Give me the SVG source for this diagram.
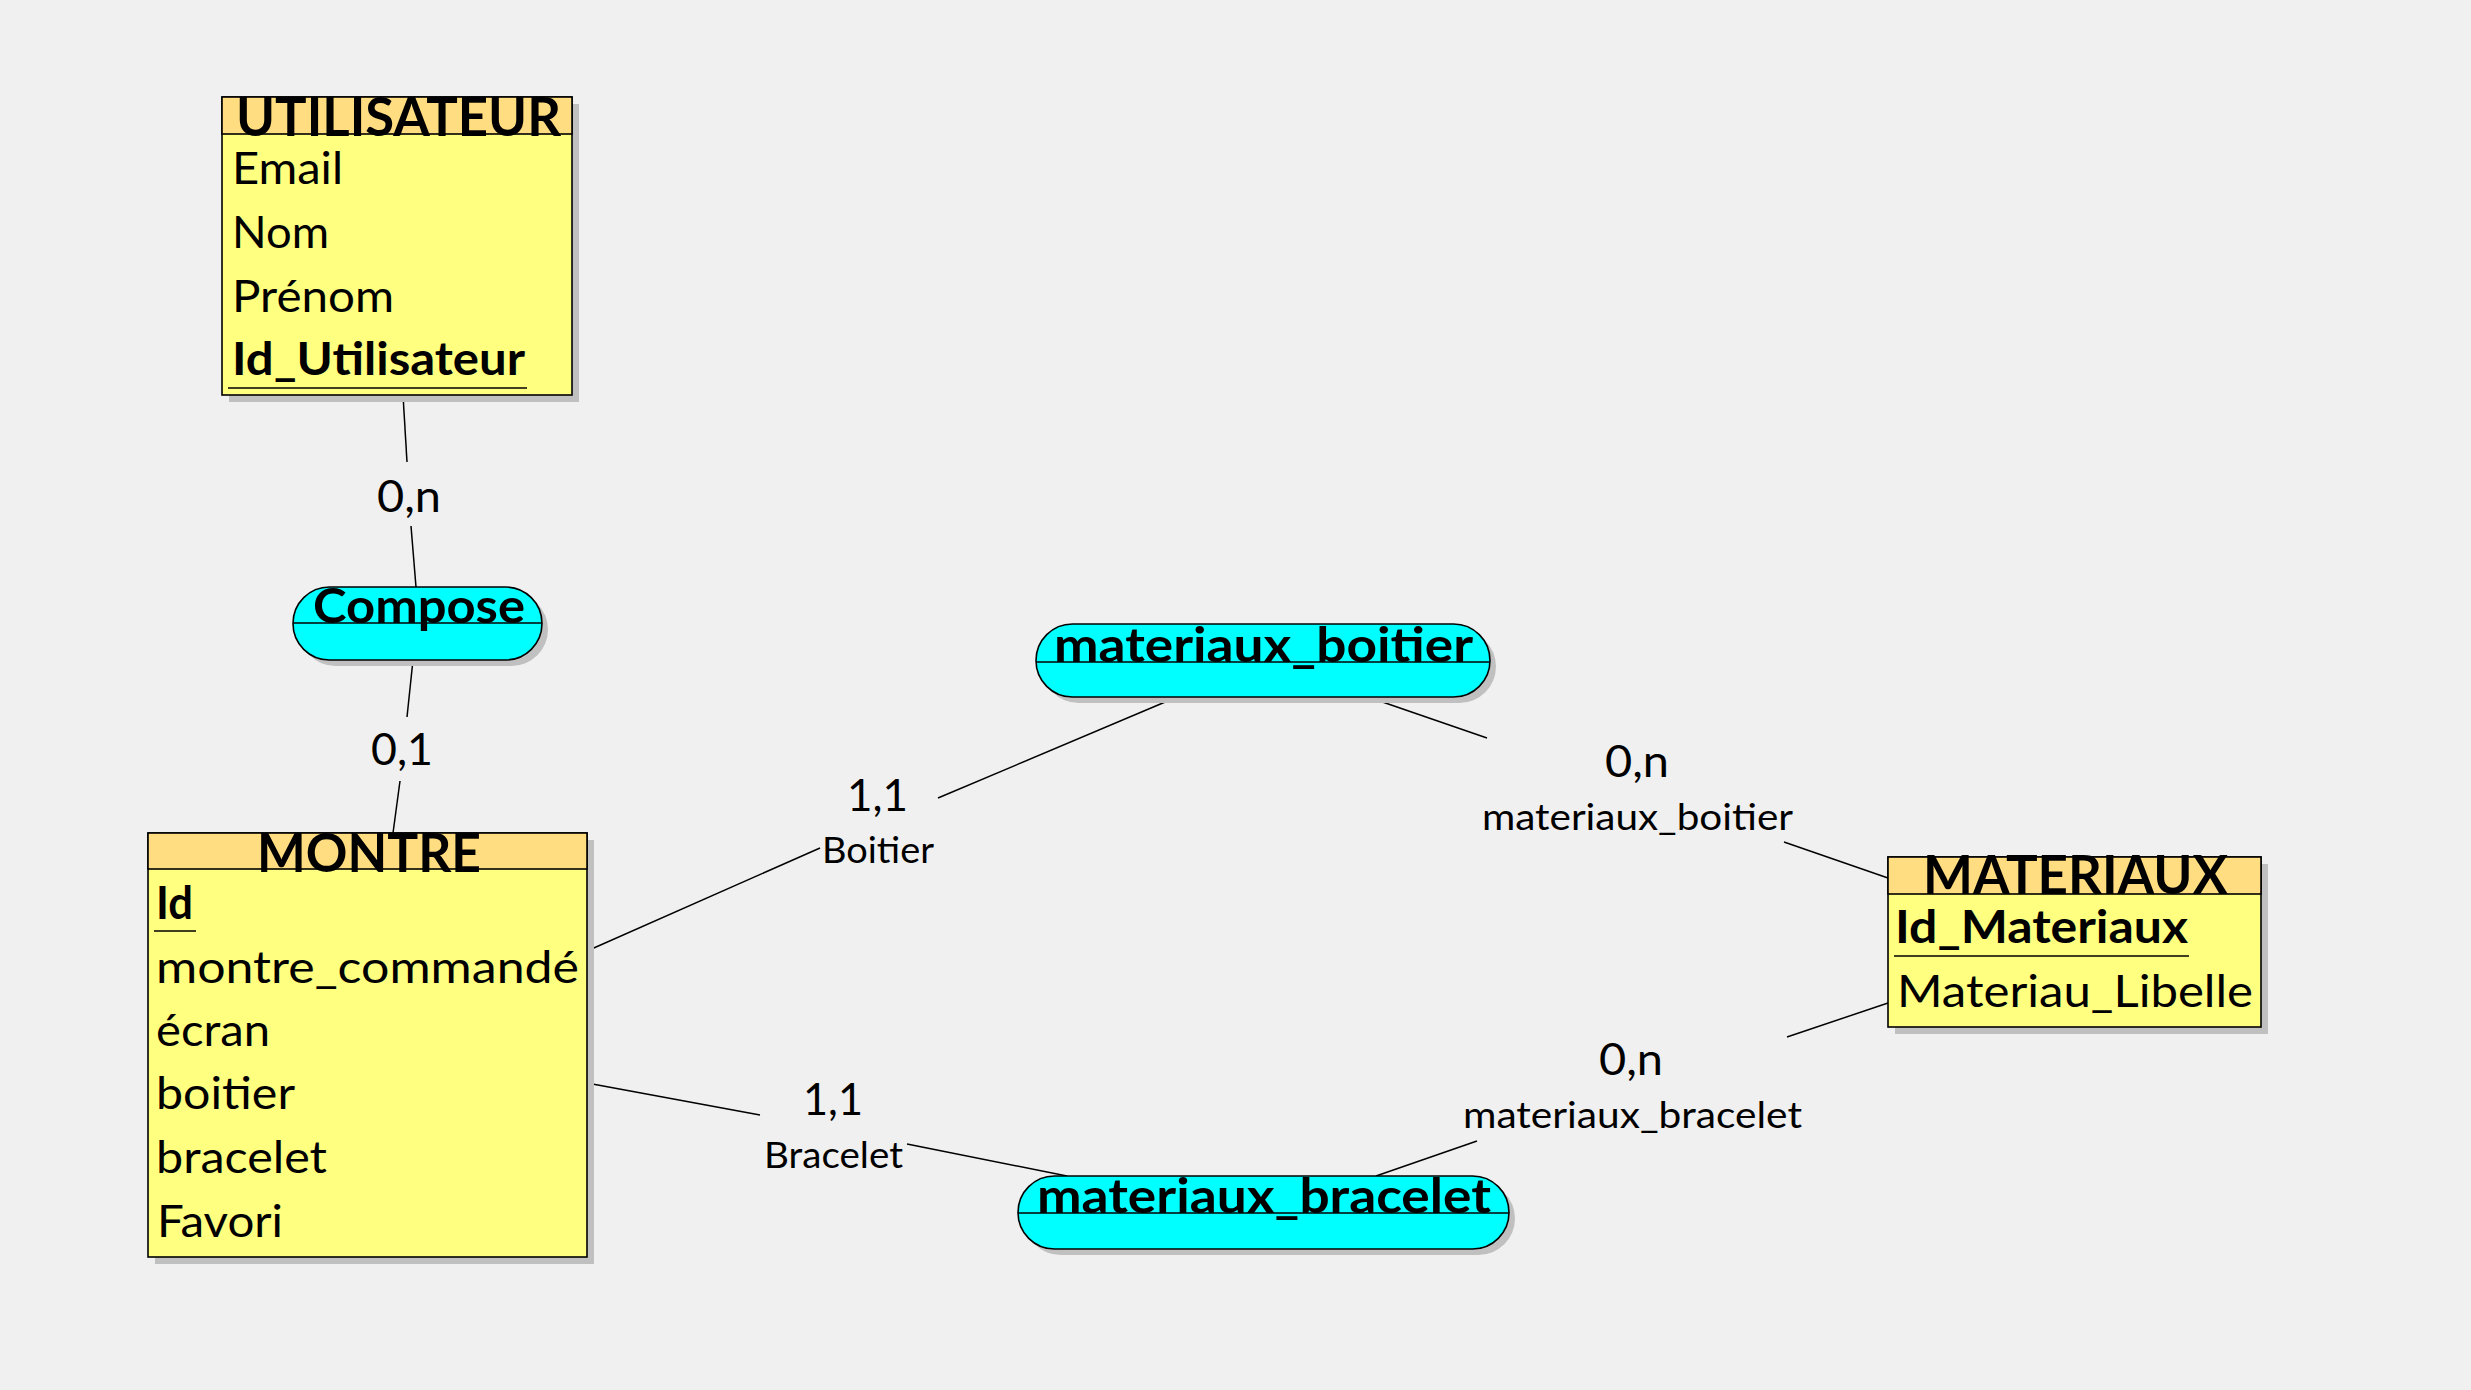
<svg xmlns="http://www.w3.org/2000/svg" width="2471" height="1390" viewBox="0 0 2471 1390">
<style>
.bg{fill:#f0f0f0}
.shadow{fill:#c0c0c0}
.ebody{fill:#ffff80;stroke:#000;stroke-width:1.6}
.ehead{fill:#ffdd80;stroke:#000;stroke-width:1.6}
.rel{fill:#00ffff;stroke:#000;stroke-width:1.6}
.sep{stroke:#000;stroke-width:1.5;fill:none}
.con{stroke:#000;stroke-width:1.5;fill:none}
text{font-family:Lato,"Open Sans","Liberation Sans",sans-serif;fill:#000}
.hd{font-size:53px;font-weight:bold}
.at{font-size:45px}
.pk{font-size:45px;font-weight:bold}
.rn{font-size:48px;font-weight:bold}
.card{font-size:45px}
.role{font-size:37px}
</style>
<rect class="bg" x="0" y="0" width="2471" height="1390"/>
<g id="connectors">
<line class="con" x1="403" y1="395" x2="407" y2="462"/>
<line class="con" x1="411" y1="526" x2="416" y2="587"/>
<text class="card" x="377" y="512" textLength="64" lengthAdjust="spacingAndGlyphs">0,n</text>
<line class="con" x1="413" y1="660" x2="407" y2="717"/>
<line class="con" x1="400" y1="781" x2="393" y2="833"/>
<text class="card" x="371" y="765" textLength="62" lengthAdjust="spacingAndGlyphs">0,1</text>
<line class="con" x1="587" y1="951" x2="820" y2="848"/>
<line class="con" x1="938" y1="798" x2="1177" y2="697"/>
<text class="card" x="847" y="811" textLength="61" lengthAdjust="spacingAndGlyphs">1,1</text>
<text class="role" x="822" y="863" textLength="112" lengthAdjust="spacingAndGlyphs">Boitier</text>
<line class="con" x1="1368" y1="697" x2="1487" y2="738"/>
<line class="con" x1="1784" y1="842" x2="1888" y2="878"/>
<text class="card" x="1605" y="777" textLength="64" lengthAdjust="spacingAndGlyphs">0,n</text>
<text class="role" x="1482" y="830" textLength="311" lengthAdjust="spacingAndGlyphs">materiaux_boitier</text>
<line class="con" x1="587" y1="1083" x2="760" y2="1115"/>
<line class="con" x1="907" y1="1144" x2="1067" y2="1176"/>
<text class="card" x="803" y="1115" textLength="60" lengthAdjust="spacingAndGlyphs">1,1</text>
<text class="role" x="764" y="1168" textLength="139" lengthAdjust="spacingAndGlyphs">Bracelet</text>
<line class="con" x1="1376" y1="1176" x2="1477" y2="1141"/>
<line class="con" x1="1787" y1="1037" x2="1888" y2="1003"/>
<text class="card" x="1599" y="1075" textLength="64" lengthAdjust="spacingAndGlyphs">0,n</text>
<text class="role" x="1463" y="1128" textLength="339" lengthAdjust="spacingAndGlyphs">materiaux_bracelet</text>
</g>
<g id="utilisateur">
<rect class="shadow" x="229" y="104" width="350" height="298"/>
<rect class="ebody" x="222" y="97" width="350" height="298"/>
<rect class="ehead" x="222" y="97" width="350" height="37"/>
<text class="hd" x="236" y="136" textLength="325" lengthAdjust="spacingAndGlyphs">UTILISATEUR</text>
<text class="at" x="232" y="184" textLength="111" lengthAdjust="spacingAndGlyphs">Email</text>
<text class="at" x="232" y="248" textLength="97" lengthAdjust="spacingAndGlyphs">Nom</text>
<text class="at" x="232" y="312" textLength="162" lengthAdjust="spacingAndGlyphs">Prénom</text>
<text class="pk" x="232" y="375" textLength="293" lengthAdjust="spacingAndGlyphs">Id_Utilisateur</text>
<line class="sep" x1="228" y1="388" x2="527" y2="388"/>
</g>
<g id="compose">
<rect class="shadow" x="299" y="593" width="249" height="73" rx="36.5"/>
<rect class="rel" x="293" y="587" width="249" height="73" rx="36.5"/>
<line class="sep" x1="293" y1="623" x2="542" y2="623"/>
<text class="rn" x="313" y="623" textLength="212" lengthAdjust="spacingAndGlyphs">Compose</text>
</g>
<g id="montre">
<rect class="shadow" x="155" y="840" width="439" height="424"/>
<rect class="ebody" x="148" y="833" width="439" height="424"/>
<rect class="ehead" x="148" y="833" width="439" height="36"/>
<text class="hd" x="257" y="872" textLength="224" lengthAdjust="spacingAndGlyphs">MONTRE</text>
<text class="pk" x="156" y="919" textLength="37" lengthAdjust="spacingAndGlyphs">Id</text>
<line class="sep" x1="154" y1="931" x2="196" y2="931"/>
<text class="at" x="156" y="983" textLength="423" lengthAdjust="spacingAndGlyphs">montre_commandé</text>
<text class="at" x="156" y="1046" textLength="114" lengthAdjust="spacingAndGlyphs">écran</text>
<text class="at" x="156" y="1109" textLength="139" lengthAdjust="spacingAndGlyphs">boitier</text>
<text class="at" x="156" y="1173" textLength="171" lengthAdjust="spacingAndGlyphs">bracelet</text>
<text class="at" x="157" y="1237" textLength="126" lengthAdjust="spacingAndGlyphs">Favori</text>
</g>
<g id="materiaux_boitier">
<rect class="shadow" x="1042" y="630" width="454" height="73" rx="36.5"/>
<rect class="rel" x="1036" y="624" width="454" height="73" rx="36.5"/>
<line class="sep" x1="1036" y1="662" x2="1490" y2="662"/>
<text class="rn" x="1054" y="662" textLength="419" lengthAdjust="spacingAndGlyphs">materiaux_boitier</text>
</g>
<g id="materiaux_bracelet">
<rect class="shadow" x="1024" y="1182" width="491" height="73" rx="36.5"/>
<rect class="rel" x="1018" y="1176" width="491" height="73" rx="36.5"/>
<line class="sep" x1="1018" y1="1213" x2="1509" y2="1213"/>
<text class="rn" x="1037" y="1213" textLength="454" lengthAdjust="spacingAndGlyphs">materiaux_bracelet</text>
</g>
<g id="materiaux">
<rect class="shadow" x="1895" y="864" width="373" height="170"/>
<rect class="ebody" x="1888" y="857" width="373" height="170"/>
<rect class="ehead" x="1888" y="857" width="373" height="37"/>
<text class="hd" x="1923" y="894" textLength="305" lengthAdjust="spacingAndGlyphs">MATERIAUX</text>
<text class="pk" x="1895" y="943" textLength="293" lengthAdjust="spacingAndGlyphs">Id_Materiaux</text>
<line class="sep" x1="1894" y1="956" x2="2189" y2="956"/>
<text class="at" x="1897" y="1007" textLength="356" lengthAdjust="spacingAndGlyphs">Materiau_Libelle</text>
</g>
</svg>
